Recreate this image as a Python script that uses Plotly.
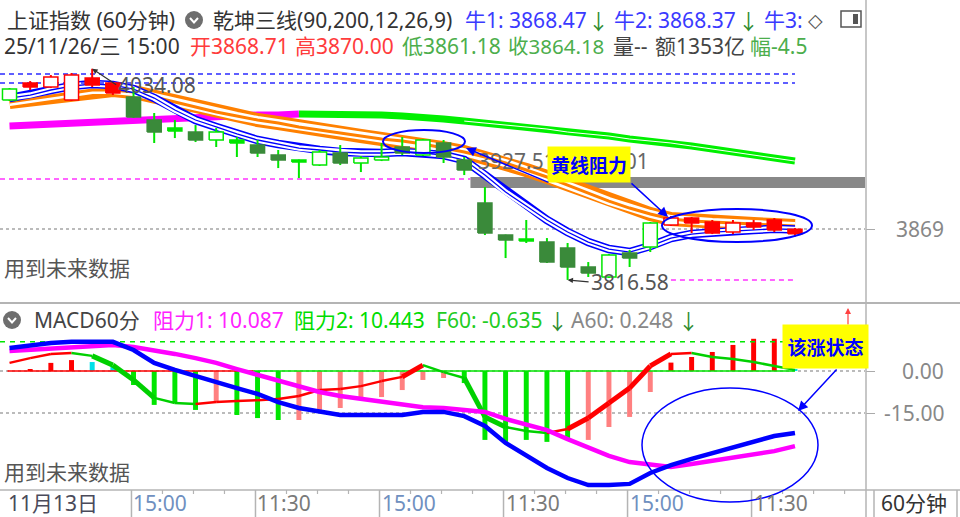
import plotly.graph_objects as go

# ------------------------------------------------------------------ data
bar_index = list(range(39))

open_ = [4001.9, 4015.3, 4015.3, 4001.9, 4017.3, 4019.4, 4005.0, 3981.3, 3973.0, 3968.9,
         3968.9, 3960.7, 3955.5, 3945.2, 3940.1, 3948.3, 3947.3, 3942.1, 3943.2, 3953.5,
         3960.7, 3957.6, 3940.1, 3895.8, 3862.8, 3858.7, 3855.6, 3849.4, 3829.9, 3842.2,
         3844.3, 3875.2, 3873.1, 3875.2, 3876.2, 3865.9, 3871.1, 3868.0, 3868.71]
close = [4013.2, 4019.4, 4025.6, 4027.6, 4024.5, 4009.1, 3984.4, 3968.9, 3969.9, 3960.7,
         3960.7, 3957.6, 3947.3, 3940.1, 3938.0, 3934.9, 3937.0, 3937.0, 3940.1, 3947.3,
         3945.2, 3943.2, 3929.8, 3864.9, 3857.7, 3856.6, 3835.0, 3829.9, 3823.7, 3819.6,
         3839.1, 3850.5, 3880.3, 3880.3, 3864.9, 3875.2, 3875.2, 3878.3, 3864.18]
high = [4014.2, 4021.4, 4027.6, 4029.7, 4034.08, 4020.4, 4015.3, 3988.5, 3981.3, 3976.1,
        3973.0, 3963.8, 3960.7, 3950.4, 3940.6, 3950.4, 3955.5, 3944.2, 3957.6, 3963.8,
        3961.7, 3960.7, 3943.2, 3912.3, 3863.3, 3878.3, 3859.7, 3854.6, 3835.0, 3843.2,
        3847.4, 3876.2, 3882.4, 3881.4, 3878.3, 3878.3, 3878.3, 3880.3, 3870.00]
low = [4000.9, 4012.2, 4014.2, 4000.9, 4015.3, 4007.0, 3983.4, 3957.6, 3962.7, 3958.6,
       3953.5, 3943.2, 3943.2, 3931.8, 3921.5, 3933.9, 3934.9, 3927.7, 3939.0, 3945.2,
       3944.2, 3937.0, 3924.6, 3862.8, 3839.1, 3854.6, 3834.0, 3816.58, 3819.6, 3818.6,
       3829.9, 3845.3, 3872.1, 3864.9, 3863.8, 3863.8, 3868.0, 3865.9, 3861.18]
candle_style = ['gh', 'rf', 'rh', 'rh', 'rf', 'rf', 'dg', 'dg', 'bg', 'dg',
                'gh', 'bg', 'dg', 'dg', 'bg', 'gh', 'dg', 'gh', 'gh', 'dg',
                'gh', 'dg', 'dg', 'dg', 'dg', 'bg', 'dg', 'dg', 'dg', 'gh',
                'dg', 'gh', 'rh', 'rf', 'rf', 'rh', 'rf', 'rf', 'rf']

long_ma = [3975.1, 3976.1, 3977.2, 3978.2, 3979.2, 3980.2, 3981.3, 3982.3, 3983.3, 3983.3,
           3984.4, 3985.4, 3986.4, 3986.4, 3987.5, 3987.5, 3987.5, 3986.4, 3986.4, 3985.4,
           3984.4, 3982.3, 3980.2, 3978.2, 3976.1, 3974.1, 3972.0, 3968.9, 3966.9, 3964.8,
           3961.7, 3959.6, 3957.6, 3954.5, 3951.4, 3948.3, 3945.2, 3942.1, 3939.0]
long_ma_magenta_until = 14
mid_ma = [3999.8, 4002.9, 4006.0, 4009.1, 4012.2, 4012.2, 4010.1, 4005.0, 3999.8, 3994.7,
          3989.5, 3985.4, 3981.3, 3978.2, 3974.1, 3971.0, 3967.9, 3964.8, 3961.7, 3959.6,
          3956.6, 3952.4, 3948.3, 3943.2, 3937.0, 3929.8, 3922.6, 3914.3, 3906.1, 3897.8,
          3890.6, 3884.5, 3879.3, 3877.2, 3876.2, 3875.2, 3874.2, 3873.1, 3872.1]
short_ma = [4003.9, 4007.0, 4012.2, 4016.3, 4018.4, 4017.3, 4013.2, 4003.9, 3991.6, 3981.3,
            3974.1, 3966.9, 3960.7, 3956.6, 3952.4, 3950.4, 3948.3, 3947.3, 3947.3, 3948.3,
            3947.3, 3945.2, 3940.1, 3924.6, 3907.1, 3892.7, 3878.3, 3865.9, 3855.6, 3848.4,
            3845.3, 3851.5, 3859.7, 3863.8, 3865.9, 3866.9, 3868.0, 3869.2, 3868.5]

level_blue = [4028.7, 4019.4]
level_pink = 3920.5
level_pink_end = 22.3
band_range = [3911.2, 3922.6]
price_tick = [3869]
side_label_a = "3927.51"
side_label_b = "3938.01"

niu1, niu2 = "3868.47", "3868.37"
amount_text = "1353亿"
range_text = "-4.5"
date_text = "25/11/26/三 15:00"

dif = [8.2, 9.3, 10.0, 10.4, 10.4, 10.4, 7.5, 2.9, 0.4, -1.8,
       -4.3, -6.1, -8.2, -11.1, -13.2, -14.6, -15.7, -15.7, -15.7, -15.7,
       -14.6, -14.6, -16.1, -19.6, -25.7, -30.3, -34.6, -38.2, -40.7, -40.7,
       -40.3, -36.4, -33.6, -31.4, -29.3, -27.1, -25.0, -23.2, -22.1]
dea = [7.1, 7.5, 7.9, 8.2, 8.9, 9.3, 8.6, 7.5, 6.1, 4.6,
       2.9, 0.7, -1.4, -3.6, -5.7, -7.5, -8.9, -10.0, -11.1, -12.1,
       -12.9, -13.2, -13.9, -14.6, -17.1, -19.3, -21.1, -24.3, -27.1, -30.3,
       -32.5, -33.6, -34.3, -33.2, -32.1, -31.1, -30.0, -28.6, -26.8]
osc = [2.9, 4.6, 6.1, 6.4, 5.4, 2.1, -3.2, -9.6, -11.4, -11.8,
       -11.1, -10.7, -10.4, -10.0, -8.9, -6.8, -6.4, -5.4, -3.6, -2.1,
       2.1, -0.4, -2.5, -16.4, -20.0, -21.4, -22.1, -20.7, -16.8, -11.4,
       -6.1, 1.8, 6.1, 6.4, 5.0, 4.3, 3.2, 1.8, 0.4]
hist = [0, 0.7, 2.9, 3.9, 3.2, 1.4, -5.0, -12.1, -11.4, -13.9,
        -11.1, -15.7, -16.8, -17.5, -17.5, -13.9, -13.2, -9.6, -9.3, -6.8,
        -3.2, -2.5, -4.3, -24.6, -25.3, -24.6, -25.3, -24.6, -24.6, -20.0,
        -16.4, -7.5, 3.0, 5.0, 6.8, 9.3, 11.5, 11.5, 0.5]
hist_state = ['r', 'r', 'r', 'r', 'c', 'c', 'g', 'g', 'g', 'g',
              'p', 'g', 'g', 'g', 'p', 'p', 'p', 'p', 'p', 'p',
              'p', 'p', 'g', 'g', 'g', 'g', 'g', 'g', 'p', 'p',
              'p', 'p', 'r', 'r', 'r', 'r', 'r', 'r', 'c']
zero_red_until = 11.8
resist1, resist2 = 10.087, 10.443
f60, a60 = -0.635, 0.248
macd_ticks = [0, -15]

xtick_text = ["15:00", "11:30", "15:00", "11:30", "15:00", "11:30"]
xtick_pos = [5.9, 11.9, 17.9, 23.9, 29.9, 35.9]
minor_tick_step = 1.5
first_date = "11月13日"
period_text = "60分钟"

for arr in (open_, close, high, low, candle_style, long_ma, mid_ma, short_ma,
            dif, dea, osc, hist, hist_state):
    assert len(arr) == len(bar_index), len(arr)

# ------------------------------------------------------------------ geometry helpers
W, H = 960, 517
PLOT_RIGHT = 865
BAR_PX = 20.67
XR0 = -0.46
XR1 = XR0 + PLOT_RIGHT / BAR_PX
FONT = "Noto Sans, Noto Sans CJK SC, sans-serif"


def px(x):
    return x / W


def py(y):
    return 1 - y / H


def xpaper(i):
    return (i - XR0) / (XR1 - XR0) * PLOT_RIGHT / W


fig = go.Figure()

# ------------------------------------------------------------------ price panel
RED = '#ff0000'
BGREEN = '#00e600'
DGREEN = '#3a8a3a'
STYLE = {
    'rh': dict(line=RED, fill='#ffffff', wick=RED),
    'rf': dict(line=RED, fill=RED, wick=RED),
    'gh': dict(line=BGREEN, fill='#ffffff', wick=BGREEN),
    'dg': dict(line=DGREEN, fill=DGREEN, wick=BGREEN),
    'bg': dict(line=BGREEN, fill=BGREEN, wick=BGREEN),
}

k = long_ma_magenta_until
fig.add_trace(go.Scatter(x=bar_index[:k + 1], y=long_ma[:k + 1], mode='lines',
                         line=dict(color='#ff00ff', width=7), hoverinfo='skip'))
fig.add_trace(go.Scatter(x=bar_index[k:], y=long_ma[k:], mode='lines',
                         line=dict(color='#00f000', width=7), hoverinfo='skip'))
fig.add_trace(go.Scatter(x=bar_index[k + 8:], y=long_ma[k + 8:], mode='lines',
                         line=dict(color='#ffffff', width=1), hoverinfo='skip'))

for col, wd in (('#ff8000', 14), ('#ffffff', 8), ('#ff8000', 3)):
    fig.add_trace(go.Scatter(x=bar_index, y=mid_ma, mode='lines',
                             line=dict(color=col, width=wd), hoverinfo='skip'))
for col, wd in (('#0000ff', 8.5), ('#ffffff', 5.5), ('#0000ff', 1.3)):
    fig.add_trace(go.Scatter(x=bar_index, y=short_ma, mode='lines',
                             line=dict(color=col, width=wd), hoverinfo='skip'))

for lv in level_blue:
    fig.add_trace(go.Scatter(x=[XR0, bar_index[-1]], y=[lv, lv], mode='lines',
                             line=dict(color='#2a2aff', width=1.5, dash='5px,4px'),
                             hoverinfo='skip'))
fig.add_trace(go.Scatter(x=[XR0, level_pink_end], y=[level_pink, level_pink], mode='lines',
                         line=dict(color='#ff33ff', width=1.5, dash='5px,4px'), hoverinfo='skip'))
lo_val = min(low)
lo_i = low.index(lo_val)
fig.add_trace(go.Scatter(x=[lo_i + 5, bar_index[-1]], y=[lo_val, lo_val], mode='lines',
                         line=dict(color='#ff33ff', width=1.5, dash='5px,4px'), hoverinfo='skip'))

# wicks
for wcol in (RED, BGREEN):
    xs, ys = [], []
    for i, s in enumerate(candle_style):
        if STYLE[s]['wick'] == wcol:
            xs += [bar_index[i], bar_index[i], None]
            ys += [low[i], high[i], None]
    fig.add_trace(go.Scatter(x=xs, y=ys, mode='lines', line=dict(color=wcol, width=2),
                             hoverinfo='skip'))

# bodies
HW = 0.34
for s, st in STYLE.items():
    xs, ys = [], []
    for i, cs in enumerate(candle_style):
        if cs != s:
            continue
        lo_b, hi_b = min(open_[i], close[i]), max(open_[i], close[i])
        x = bar_index[i]
        xs += [x - HW, x + HW, x + HW, x - HW, x - HW, None]
        ys += [lo_b, lo_b, hi_b, hi_b, lo_b, None]
    if xs:
        fig.add_trace(go.Scatter(x=xs, y=ys, mode='lines', fill='toself',
                                 fillcolor=st['fill'], line=dict(color=st['line'], width=1.5),
                                 hoverinfo='skip'))

# ------------------------------------------------------------------ MACD panel
HCOL = {'r': '#ff0000', 'g': '#00e600', 'p': '#ff8080', 'c': '#00e0e8'}
fig.add_trace(go.Bar(x=bar_index, y=hist, marker_color=[HCOL[s] for s in hist_state],
                     marker_line_width=0, width=0.24, xaxis='x2', yaxis='y2', hoverinfo='skip'))
fig.add_trace(go.Scatter(x=[bar_index[0] - 0.1, zero_red_until], y=[0, 0], mode='lines',
                         line=dict(color='#ff0000', width=1.5), xaxis='x2', yaxis='y2',
                         hoverinfo='skip'))
fig.add_trace(go.Scatter(x=[zero_red_until, bar_index[-1]], y=[0, 0], mode='lines',
                         line=dict(color='#00e600', width=1.5), xaxis='x2', yaxis='y2',
                         hoverinfo='skip'))
fig.add_trace(go.Scatter(x=[XR0, bar_index[-1]], y=[resist2, resist2], mode='lines',
                         line=dict(color='#00e600', width=1.5, dash='5px,5px'),
                         xaxis='x2', yaxis='y2', hoverinfo='skip'))
for i in range(len(bar_index) - 1):
    rising = osc[i + 1] >= osc[i]
    big = abs(osc[i + 1] - osc[i]) > 3
    fig.add_trace(go.Scatter(x=bar_index[i:i + 2], y=osc[i:i + 2], mode='lines',
                             line=dict(color='#ff0000' if rising else '#00d000',
                                       width=5 if big else 2.5),
                             xaxis='x2', yaxis='y2', hoverinfo='skip'))
fig.add_trace(go.Scatter(x=bar_index, y=dea, mode='lines', line=dict(color='#ff00ff', width=4.5),
                         xaxis='x2', yaxis='y2', hoverinfo='skip'))
fig.add_trace(go.Scatter(x=bar_index, y=dif, mode='lines', line=dict(color='#0000ff', width=4.5),
                         xaxis='x2', yaxis='y2', hoverinfo='skip'))

# ------------------------------------------------------------------ annotations
ann = []


def label(text, x, y, color, size=21, anchor='left', family=FONT, **kw):
    ann.append(dict(text=text, x=px(x), y=py(y), xref='paper', yref='paper',
                    xanchor=anchor, yanchor='middle', showarrow=False,
                    font=dict(family=family, size=size, color=color), **kw))


def arrow(x0, y0, x1, y1, color='#0000ff', width=1.5, size=1.3):
    ann.append(dict(x=px(x1), y=py(y1), ax=x0 - x1, ay=y0 - y1, xref='paper', yref='paper',
                    text='', showarrow=True, arrowhead=2,
                    arrowsize=size, arrowwidth=width, arrowcolor=color))


# header line 1
label("上证指数 (60分钟)", 5, 20, '#333')
label("乾坤三线(90,200,12,26,9)", 211, 20, '#333')
label(f"牛1: {niu1}", 463, 20, '#3a3aff')
label("↓", 586, 21, '#2e8b2e')
label(f"牛2: {niu2}", 612, 20, '#3a3aff')
label("↓", 736, 21, '#2e8b2e')
label("牛3:", 762, 20, '#3a3aff')
label("◇", 806, 20, '#555', family="DejaVu Sans", size=19)
# header line 2
label(date_text, 2, 46, '#333')
label(f"开{open_[-1]:.2f}", 188, 46, '#ff3c3c')
label(f"高{high[-1]:.2f}", 293, 46, '#ff3c3c')
label(f"低{low[-1]:.2f}", 400, 46, '#4cae4c')
label(f"收{close[-1]:.2f}", 506, 46, '#4cae4c', size=20.5)
label("量--", 611, 46, '#444')
label(f"额{amount_text}", 653, 46, '#444')
label(f"幅{range_text}", 748, 46, '#4cae4c')

label("用到未来数据", 2, 268, '#555')
label("用到未来数据", 2, 472, '#555')

# hi / lo markers
hi_val = max(high)
hi_i = high.index(hi_val)
ann.append(dict(x=bar_index[hi_i], y=hi_val, xref='x', yref='y', text=f"{hi_val:.2f}",
                showarrow=True, ax=24, ay=16, xanchor='left', arrowhead=2, arrowsize=0.9,
                arrowwidth=1.2, arrowcolor='#333', font=dict(family=FONT, size=21, color='#555')))
ann.append(dict(x=bar_index[lo_i], y=lo_val, xref='x', yref='y', text=f"{lo_val:.2f}",
                showarrow=True, ax=21, ay=2, xanchor='left', arrowhead=2, arrowsize=0.9,
                arrowwidth=1.2, arrowcolor='#333', font=dict(family=FONT, size=21, color='#555')))

label(side_label_a, 476, 161, '#666')
label(side_label_b, 651, 161, '#666', anchor='right')

# right-side tick labels
for t in price_tick:
    ann.append(dict(text=f"{t}", x=px(946), y=t, xref='paper', yref='y', xanchor='right',
                    yanchor='middle', showarrow=False, font=dict(family=FONT, size=21, color='#888')))
for t in macd_ticks:
    ann.append(dict(text=f"{t:.2f}", x=px(946), y=t, xref='paper', yref='y2', xanchor='right',
                    yanchor='middle', showarrow=False, font=dict(family=FONT, size=21, color='#888')))

# MACD header
label("MACD60分", 32, 320, '#444')
label(f"阻力1: {resist1:.3f}", 151, 320, '#ff22ff')
label(f"阻力2: {resist2:.3f}", 292, 320, '#00dd00')
label(f"F60: {f60:.3f}", 434, 320, '#22cc22')
label("↓", 545, 321, '#2e8b2e')
label(f"A60: {a60:.3f}", 569, 320, '#888')
label("↓", 676, 321, '#2e8b2e')
arrow(848, 326, 848, 308, color='#ff4040', width=1.2, size=1.0)

# x axis strip labels
label(first_date, 6, 503, '#4a4a5a')
for t, pos in zip(xtick_text, xtick_pos):
    ann.append(dict(text=t, x=xpaper(pos), y=py(503), xref='paper', yref='paper',
                    xanchor='left', yanchor='middle', showarrow=False,
                    font=dict(family=FONT, size=21,
                              color='#7090c0' if t == "15:00" else '#7a7a7a')))
label(period_text, 914, 503, '#333', anchor='center')

# callouts
ann.append(dict(text="<b>黄线阻力</b>", x=px(589), y=py(164), xref='paper', yref='paper',
                xanchor='center', yanchor='middle',
                showarrow=False, bgcolor='#ffff00', width=78, height=31, borderpad=2,
                font=dict(family="Noto Sans CJK SC", size=19, color='#0000ff')))
ann.append(dict(text="<b>该涨状态</b>", x=px(825.5), y=py(346.5), xref='paper', yref='paper',
                xanchor='center', yanchor='middle',
                showarrow=False, bgcolor='#ffff00', width=81, height=39, borderpad=2,
                font=dict(family="Noto Sans CJK SC", size=19, color='#0000ff')))
arrow(550, 183, 466, 148)
arrow(630, 182, 668, 217)
arrow(838, 368, 798, 411)

# ------------------------------------------------------------------ shapes
shapes = []


def pline(x0, y0, x1, y1, color='#b4b4b4', width=1.5):
    shapes.append(dict(type='line', xref='paper', yref='paper', x0=px(x0), y0=py(y0),
                       x1=px(x1), y1=py(y1), line=dict(color=color, width=width)))


shapes.append(dict(type='rect', xref='x', yref='y', x0=level_pink_end, x1=XR1,
                   y0=band_range[0], y1=band_range[1], fillcolor='#888888',
                   line=dict(width=0), layer='below'))
pline(866, 0, 866, H)
pline(0, 303, W, 303, width=2)
pline(0, 490, W, 490)
pline(957, 490, 957, H)
for pos in xtick_pos:
    x = xpaper(pos) * W
    pline(x, 490, x, H)
    for m in (1, 2, 3):
        mpos = pos + m * minor_tick_step
        if mpos < XR1 - 0.5:
            xm = xpaper(mpos) * W
            pline(xm, 490, xm, 494, width=1.2)
pline(874, 490, 874, H)

# ellipses
for (x0, y0, x1, y1, wd) in ((383, 130, 465, 153, 2), (662, 209, 812, 242, 2),
                             (642, 388, 818, 502, 1.5)):
    shapes.append(dict(type='circle', xref='paper', yref='paper', x0=px(x0), x1=px(x1),
                       y0=py(y1), y1=py(y0), line=dict(color='#0000ff', width=wd)))

# icons
for cx, cy in ((194, 20), (12, 320)):
    shapes.append(dict(type='circle', xref='paper', yref='paper', x0=px(cx - 9), x1=px(cx + 9),
                       y0=py(cy + 9), y1=py(cy - 9), fillcolor='#6e6e6e', line=dict(width=0)))
    shapes.append(dict(type='path', xref='paper', yref='paper',
                       path=f"M {px(cx - 4)} {py(cy - 2)} L {px(cx)} {py(cy + 2.5)} L {px(cx + 4)} {py(cy - 2)}",
                       line=dict(color='#ffffff', width=2)))
shapes.append(dict(type='rect', xref='paper', yref='paper', x0=px(841), x1=px(861),
                   y0=py(27), y1=py(11), line=dict(color='#555', width=1.5), fillcolor='#ffffff'))
shapes.append(dict(type='rect', xref='paper', yref='paper', x0=px(853), x1=px(858),
                   y0=py(24), y1=py(14), line=dict(width=0), fillcolor='#555'))

# ------------------------------------------------------------------ layout
xdom = [0, PLOT_RIGHT / W]
fig.update_layout(
    width=W, height=H, margin=dict(l=0, r=0, t=0, b=0),
    paper_bgcolor='#ffffff', plot_bgcolor='#ffffff', showlegend=False,
    barmode='overlay',
    xaxis=dict(domain=xdom, range=[XR0, XR1], visible=False, anchor='y'),
    yaxis=dict(domain=[1 - 300 / H, 1], range=[3795.9, 4104.9], side='right', anchor='x',
               tickvals=price_tick, showticklabels=False, ticks='outside', ticklen=9,
               tickcolor='#aaaaaa', showgrid=True, gridcolor='#bbbbbb', griddash='dot',
               gridwidth=1.5, zeroline=False, showline=False),
    xaxis2=dict(domain=xdom, range=[XR0, XR1], visible=False, anchor='y2', matches='x'),
    yaxis2=dict(domain=[1 - 490 / H, 1 - 304 / H], range=[-42.48, 23.92], side='right',
                anchor='x2', tickvals=macd_ticks, showticklabels=False, ticks='outside',
                ticklen=9, tickcolor='#aaaaaa', showgrid=True, gridcolor='#bbbbbb',
                griddash='dot', gridwidth=1.5, zeroline=False, showline=False),
    annotations=ann, shapes=shapes,
)

fig.write_html("out.html", config={'displayModeBar': False},
               post_script="document.body.style.margin='0px';document.body.style.overflow='hidden';")
